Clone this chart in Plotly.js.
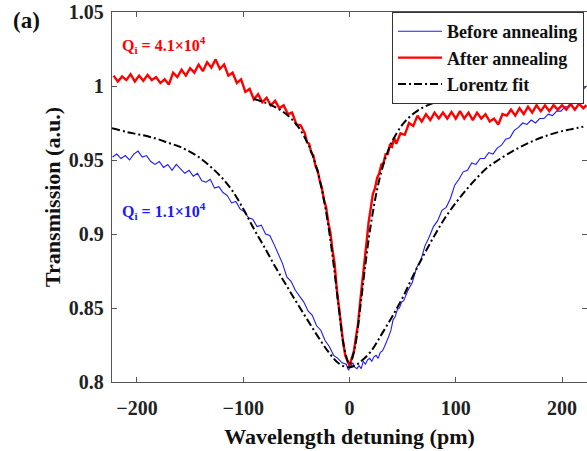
<!DOCTYPE html>
<html>
<head>
<meta charset="utf-8">
<script src="https://cdn.plot.ly/plotly-3.0.1.min.js"></script>
<style>html,body{margin:0;padding:0;background:#fff;}#chart{width:587px;height:451px;}</style>
</head>
<body>
<div id="chart"></div>
<script>
// ---- Data ----
const beforeX = [-223,-219,-215,-211,-207,-203,-199,-195,-191,-187,-183,-179,-175,-171,-167,-163,-159,-155,-151,-147,-143,-139,-135,-131,-127,-123,-119,-115,-111,-107,-103,-99,-95,-91,-87,-83,-79,-75,-71,-67,-63,-59,-55,-51,-47,-43,-39,-35,-31,-27,-23,-19,-15,-11,-7,-3,-1,1,3,5,7,9,11,13,15,17,19,21,23,25,27,29,31,33,35,37,39,41,43,45,47,49,51,55,59,63,67,71,75,79,83,87,91,95,99,103,107,111,115,119,123,127,131,135,139,143,147,151,155,159,163,167,171,175,179,183,187,191,195,199,203,207,211,215,219,223];
const beforeY = [0.952,0.954,0.951,0.953,0.950,0.954,0.956,0.952,0.953,0.949,0.947,0.949,0.945,0.947,0.943,0.947,0.944,0.941,0.943,0.939,0.941,0.936,0.935,0.937,0.931,0.932,0.928,0.926,0.921,0.922,0.917,0.915,0.911,0.910,0.905,0.906,0.900,0.899,0.893,0.886,0.880,0.871,0.868,0.862,0.858,0.854,0.848,0.845,0.838,0.835,0.828,0.824,0.818,0.816,0.813,0.812,0.808,0.811,0.813,0.810,0.809,0.811,0.809,0.814,0.812,0.815,0.816,0.814,0.817,0.818,0.816,0.820,0.821,0.824,0.827,0.831,0.835,0.842,0.844,0.849,0.850,0.854,0.855,0.862,0.867,0.877,0.882,0.892,0.898,0.905,0.909,0.916,0.918,0.924,0.933,0.937,0.942,0.943,0.948,0.947,0.951,0.951,0.955,0.954,0.958,0.960,0.964,0.965,0.970,0.972,0.975,0.974,0.977,0.975,0.978,0.978,0.981,0.980,0.983,0.983,0.986,0.986,0.989,0.993,0.997,1.000];

const afterX = [-222,-218,-214,-210,-206,-202,-198,-194,-190,-186,-182,-178,-174,-170,-166,-162,-158,-154,-150,-146,-142,-138,-134,-130,-126,-122,-118,-114,-110,-106,-102,-98,-94,-90,-86,-82,-78,-74,-70,-66,-62,-58,-54,-50,-46,-42,-40,-38,-36,-34,-32,-30,-28,-26,-24,-22,-20,-18,-16,-14,-12,-10,-8,-6,-4,-2,0,2,4,6,8,10,12,14,16,18,20,22,24,26,28,30,32,34,36,38,40,42,44,48,52,56,60,64,68,72,76,80,84,88,92,96,100,104,108,112,116,120,124,128,132,136,140,144,148,152,156,160,164,168,172,176,180,184,188,192,196,200,204,208,212,216,220,223];
const afterY = [1.007,1.003,1.0065,1.004,1.008,1.003,1.007,1.0035,1.0075,1.004,1.006,1.002,1.0045,1.001,1.009,1.006,1.011,1.007,1.012,1.009,1.0145,1.010,1.016,1.0125,1.018,1.0115,1.0145,1.007,1.009,1.002,1.0045,0.996,0.998,0.991,0.9945,0.989,0.992,0.987,0.990,0.985,0.987,0.981,0.982,0.974,0.9735,0.968,0.962,0.961,0.955,0.953,0.946,0.943,0.936,0.931,0.923,0.918,0.908,0.901,0.889,0.880,0.863,0.851,0.835,0.827,0.818,0.815,0.811,0.816,0.820,0.830,0.839,0.854,0.866,0.882,0.894,0.908,0.917,0.927,0.931,0.938,0.941,0.947,0.948,0.954,0.954,0.960,0.959,0.965,0.961,0.968,0.967,0.975,0.973,0.980,0.976,0.981,0.977,0.982,0.978,0.982,0.978,0.9825,0.978,0.983,0.978,0.982,0.977,0.982,0.978,0.981,0.976,0.978,0.974,0.981,0.980,0.984,0.980,0.985,0.981,0.986,0.982,0.987,0.983,0.987,0.983,0.987,0.984,0.987,0.984,0.988,0.984,0.988,0.985,0.987];

const fitBeforeX = [-223.5,-210,-200,-190,-180,-170,-160,-150,-140,-130,-120,-110,-100,-90,-80,-70,-60,-50,-40,-30,-20,-10,-2,5,10,20,30,40,50,60,70,80,90,100,110,120,130,140,150,160,170,180,190,200,210,220];
const fitBeforeY = [0.9715,0.969,0.9675,0.966,0.964,0.9615,0.959,0.9555,0.951,0.945,0.938,0.929,0.917,0.9035,0.891,0.878,0.866,0.854,0.8425,0.831,0.8205,0.8125,0.810,0.811,0.8135,0.8205,0.832,0.844,0.857,0.872,0.886,0.899,0.911,0.921,0.930,0.938,0.945,0.950,0.9545,0.9585,0.962,0.965,0.9675,0.9695,0.971,0.9725];

const fitAfterX = [-90,-80,-70,-60,-50,-40,-35,-30,-25,-20,-15,-10,-5,0,5,10,15,20,25,30,35,40,50,60,70,80,90];
const fitAfterY = [0.9912,0.9889,0.9858,0.9812,0.9741,0.9624,0.9537,0.9422,0.9266,0.906,0.8797,0.8496,0.8231,0.812,0.8231,0.8496,0.8797,0.906,0.9266,0.9422,0.9537,0.9624,0.9741,0.9812,0.9858,0.9889,0.9912];

const seriesNames = ['Before annealing', 'After annealing', 'Lorentz fit'];
const xTicks = [-200, -100, 0, 100, 200];
const yTicks = [0.8, 0.85, 0.9, 0.95, 1, 1.05];

// ---- Plot ----
const SERIF = 'Liberation Serif, Times New Roman, serif';
const DASH = '8px,3px,2px,3px';

const traces = [
  {x: beforeX, y: beforeY, name: seriesNames[0], mode: 'lines',
   line: {color: '#1a1aff', width: 1.1}},
  {x: afterX, y: afterY, name: seriesNames[1], mode: 'lines',
   line: {color: '#ff0000', width: 2.4}},
  {x: fitAfterX, y: fitAfterY, name: seriesNames[2], mode: 'lines', line: {color: '#000', width: 2, dash: DASH, shape: 'spline'}},
  {x: fitBeforeX, y: fitBeforeY, name: seriesNames[2], mode: 'lines', showlegend: false,
   line: {color: '#000', width: 2, dash: DASH, shape: 'spline'}}
];

const axisCommon = {
  showgrid: false, zeroline: false,
  showline: true, linecolor: '#555', linewidth: 1.3,
  mirror: 'ticks', ticks: 'inside', ticklen: 5, tickcolor: '#555', tickwidth: 1,
  tickfont: {family: SERIF, size: 20, color: '#222', weight: 'bold'}
};

const layout = {
  width: 587, height: 451,
  margin: {l: 112, r: 0, t: 12, b: 69},
  paper_bgcolor: '#fff', plot_bgcolor: '#fff',
  font: {family: SERIF, color: '#111'},
  showlegend: true,
  legend: {
    x: 0.5895, y: 1, xanchor: 'left', yanchor: 'top',
    bgcolor: '#fff', bordercolor: '#333', borderwidth: 1,
    font: {family: SERIF, size: 18, color: '#111', weight: 'bold'},
    itemwidth: 44, tracegroupgap: 0
  },
  xaxis: Object.assign({}, axisCommon, {
    range: [-223.5, 223.5], tickvals: xTicks, ticklabelstandoff: 8,
    title: {text: 'Wavelength detuning (pm)', font: {family: SERIF, size: 22, color: '#111', weight: 'bold'}, standoff: 10}
  }),
  yaxis: Object.assign({}, axisCommon, {
    range: [0.8, 1.05], tickvals: yTicks, ticklabelstandoff: 3, automargin: true,
    title: {text: 'Transmission (a.u.)', font: {family: SERIF, size: 22, color: '#111', weight: 'bold'}, standoff: 2}
  }),
  annotations: [
    {xref: 'paper', yref: 'paper', x: -0.179, y: 0.976, text: '(a)', showarrow: false,
     xanchor: 'center', yanchor: 'middle', font: {family: SERIF, size: 23, color: '#111', weight: 'bold'}},
    {xref: 'x', yref: 'y', x: -216, y: 1.028, text: 'Q<sub>i</sub> = 4.1×10<sup>4</sup>', showarrow: false,
     xanchor: 'left', yanchor: 'middle', font: {family: SERIF, size: 16, color: '#ff0000', weight: 'bold'}},
    {xref: 'x', yref: 'y', x: -216, y: 0.9155, text: 'Q<sub>i</sub> = 1.1×10<sup>4</sup>', showarrow: false,
     xanchor: 'left', yanchor: 'middle', font: {family: SERIF, size: 16, color: '#1a1aff', weight: 'bold'}}
  ]
};

Plotly.newPlot('chart', traces, layout, {displayModeBar: false, staticPlot: true});
</script>
</body>
</html>
